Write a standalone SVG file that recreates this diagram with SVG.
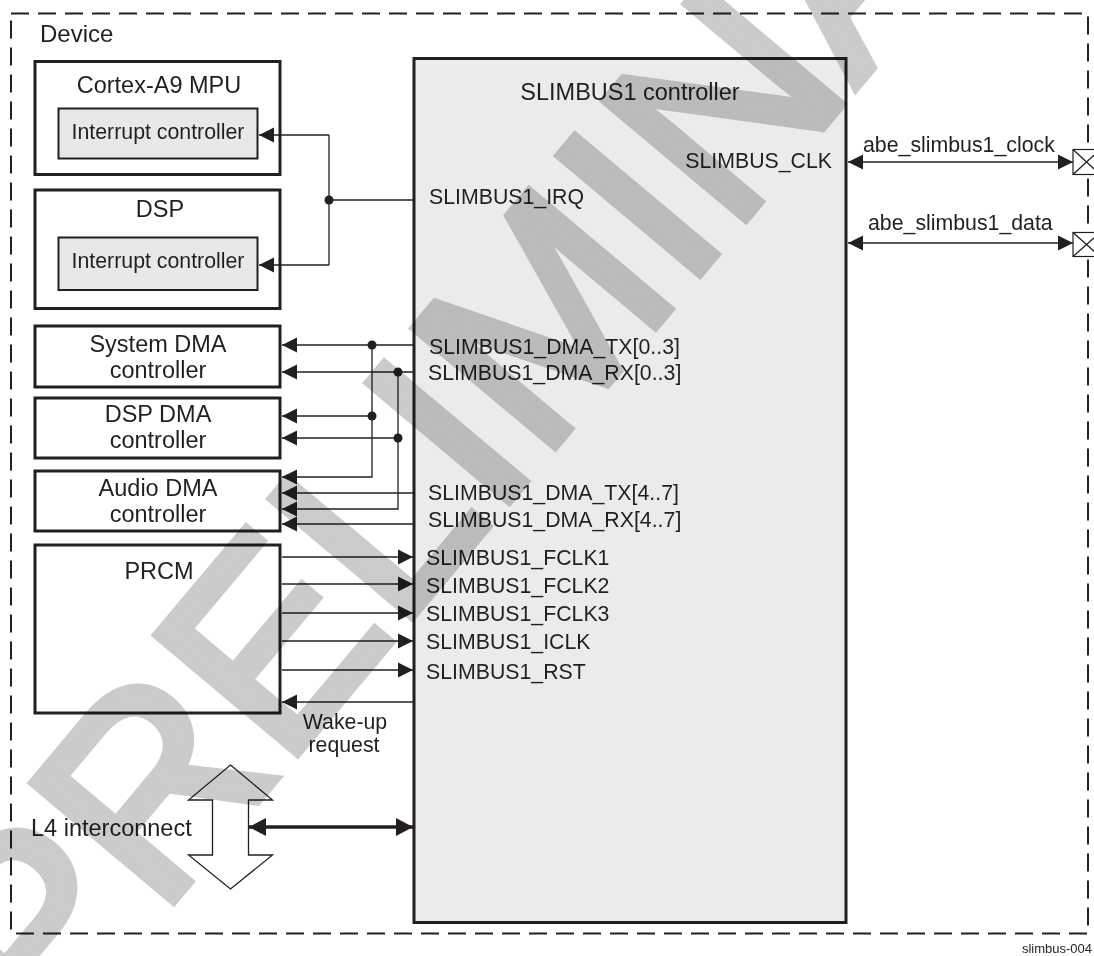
<svg xmlns="http://www.w3.org/2000/svg" width="1094" height="956" viewBox="0 0 1094 956">
<defs>
<style>
.t{font-family:"Liberation Sans",Arial,Helvetica,sans-serif;fill:#231f20}
.ttl{font-size:23.5px}
.lbl{font-size:21.3px}
.box{fill:#ffffff;stroke:#231f20;stroke-width:3}
.inner{fill:#e8e8e8;stroke:#231f20;stroke-width:2}
.ln{fill:none;stroke:#231f20;stroke-width:1.3}
.dot{fill:#231f20}
.pin{fill:#ffffff;stroke:#231f20;stroke-width:1.2}
.wm{font-family:"Liberation Sans",Arial,sans-serif;font-size:267px;fill:#cbcbcb;stroke:#cbcbcb;stroke-width:9;stroke-linejoin:miter;mix-blend-mode:multiply}
</style>
<marker id="a" markerUnits="userSpaceOnUse" markerWidth="15" markerHeight="16" viewBox="0 0 15 16" refX="15" refY="8" orient="auto-start-reverse">
<path d="M0,0.5 L15,8 L0,15.5 Z" fill="#231f20"/>
</marker>
<marker id="aL" markerUnits="userSpaceOnUse" markerWidth="17" markerHeight="18" viewBox="0 0 17 18" refX="17" refY="9" orient="auto-start-reverse">
<path d="M0,0 L17,9 L0,18 Z" fill="#231f20"/>
</marker>
</defs>
<rect x="0" y="0" width="1094" height="956" fill="#ffffff"/>

<g id="device">
<rect x="11" y="13.5" width="1077" height="920" fill="none" stroke="#231f20" stroke-width="2" stroke-dasharray="18 9"/>
<text class="t" x="40" y="42" style="font-size:24px">Device</text>
</g>

<g id="slimbus">
<rect x="414" y="58.5" width="432" height="864" fill="#ebebeb" stroke="#231f20" stroke-width="3"/>
<text class="t ttl" x="630" y="100" text-anchor="middle">SLIMBUS1 controller</text>
<text class="t lbl" x="832" y="168" text-anchor="end">SLIMBUS_CLK</text>
<text class="t lbl" x="429" y="204">SLIMBUS1_IRQ</text>
<text class="t lbl" x="429" y="354">SLIMBUS1_DMA_TX[0..3]</text>
<text class="t lbl" x="428" y="380">SLIMBUS1_DMA_RX[0..3]</text>
<text class="t lbl" x="428" y="500">SLIMBUS1_DMA_TX[4..7]</text>
<text class="t lbl" x="428" y="527">SLIMBUS1_DMA_RX[4..7]</text>
<text class="t lbl" x="426" y="565">SLIMBUS1_FCLK1</text>
<text class="t lbl" x="426" y="593">SLIMBUS1_FCLK2</text>
<text class="t lbl" x="426" y="621">SLIMBUS1_FCLK3</text>
<text class="t lbl" x="426" y="649">SLIMBUS1_ICLK</text>
<text class="t lbl" x="426" y="679">SLIMBUS1_RST</text>
</g>

<g id="cortex">
<rect class="box" x="35" y="61.5" width="245" height="113"/>
<text class="t ttl" x="159" y="93" text-anchor="middle">Cortex-A9 MPU</text>
<rect class="inner" x="58.5" y="108.5" width="199" height="50"/>
<text class="t lbl" x="158" y="139" text-anchor="middle">Interrupt controller</text>
</g>

<g id="dsp">
<rect class="box" x="35" y="190" width="245" height="118.5"/>
<text class="t ttl" x="160" y="217" text-anchor="middle">DSP</text>
<rect class="inner" x="58.5" y="237.5" width="199" height="52.5"/>
<text class="t lbl" x="158" y="268" text-anchor="middle">Interrupt controller</text>
</g>

<g id="sysdma">
<rect class="box" x="35" y="326" width="245" height="61"/>
<text class="t ttl" x="158" y="352" text-anchor="middle">System DMA</text>
<text class="t ttl" x="158" y="378" text-anchor="middle">controller</text>
</g>

<g id="dspdma">
<rect class="box" x="35" y="398" width="245" height="60"/>
<text class="t ttl" x="158" y="422" text-anchor="middle">DSP DMA</text>
<text class="t ttl" x="158" y="448" text-anchor="middle">controller</text>
</g>

<g id="audiodma">
<rect class="box" x="35" y="471" width="245" height="60"/>
<text class="t ttl" x="158" y="496" text-anchor="middle">Audio DMA</text>
<text class="t ttl" x="158" y="522" text-anchor="middle">controller</text>
</g>

<g id="prcm">
<rect class="box" x="35" y="545" width="245" height="168"/>
<text class="t ttl" x="159" y="579" text-anchor="middle">PRCM</text>
</g>

<g id="l4">
<polygon points="230.5,765 272.5,800 248.5,800 248.5,855 272.5,855 230.5,889 188.5,855 212.5,855 212.5,800 188.5,800" fill="none" stroke="#231f20" stroke-width="1.3"/>
<text class="t ttl" x="31" y="836">L4 interconnect</text>
</g>

<g id="pins">
<rect class="pin" x="1073" y="149.5" width="27" height="25"/>
<path class="ln" d="M1073,149.5 L1100,174.5 M1073,174.5 L1100,149.5" stroke-width="1"/>
<rect class="pin" x="1073" y="232.5" width="27" height="24"/>
<path class="ln" d="M1073,232.5 L1100,256.5 M1073,256.5 L1100,232.5" stroke-width="1"/>
<text class="t lbl" x="863" y="152">abe_slimbus1_clock</text>
<text class="t lbl" x="868" y="230">abe_slimbus1_data</text>
</g>

<g id="connectors">
<path class="ln" d="M414,200 H329"/>
<path class="ln" d="M329,135 V265"/>
<path class="ln" d="M329,135 H259" marker-end="url(#a)"/>
<path class="ln" d="M329,265 H259" marker-end="url(#a)"/>
<circle class="dot" cx="329" cy="200" r="4.5"/>

<path class="ln" d="M414,345 H282" marker-end="url(#a)"/>
<path class="ln" d="M414,372 H282" marker-end="url(#a)"/>
<path class="ln" d="M372,345 V477 H282" marker-end="url(#a)"/>
<path class="ln" d="M372,416 H282" marker-end="url(#a)"/>
<path class="ln" d="M398,372 V509 H282" marker-end="url(#a)"/>
<path class="ln" d="M398,438 H282" marker-end="url(#a)"/>
<path class="ln" d="M414,493 H282" marker-end="url(#a)"/>
<path class="ln" d="M414,524 H282" marker-end="url(#a)"/>
<circle class="dot" cx="372" cy="345" r="4.5"/>
<circle class="dot" cx="398" cy="372" r="4.5"/>
<circle class="dot" cx="372" cy="416" r="4.5"/>
<circle class="dot" cx="398" cy="438" r="4.5"/>

<path class="ln" d="M282,557 H413" marker-end="url(#a)"/>
<path class="ln" d="M282,584 H413" marker-end="url(#a)"/>
<path class="ln" d="M282,613 H413" marker-end="url(#a)"/>
<path class="ln" d="M282,641 H413" marker-end="url(#a)"/>
<path class="ln" d="M282,670 H413" marker-end="url(#a)"/>
<path class="ln" d="M414,702 H282" marker-end="url(#a)"/>
<text class="t lbl" x="345" y="729" text-anchor="middle">Wake-up</text>
<text class="t lbl" x="344" y="752" text-anchor="middle">request</text>

<path d="M249,827 H413" fill="none" stroke="#231f20" stroke-width="3.5" marker-start="url(#aL)" marker-end="url(#aL)"/>

<path class="ln" d="M848,162 H1073" marker-start="url(#a)" marker-end="url(#a)"/>
<path class="ln" d="M848,243 H1073" marker-start="url(#a)" marker-end="url(#a)"/>
</g>

<text class="t" x="1092" y="953" text-anchor="end" style="font-size:13px">slimbus-004</text>

<g id="watermark">
<text class="wm" transform="translate(45,1054) rotate(-50)" x="0" y="0">PRELIMINARY</text>
</g>
</svg>
